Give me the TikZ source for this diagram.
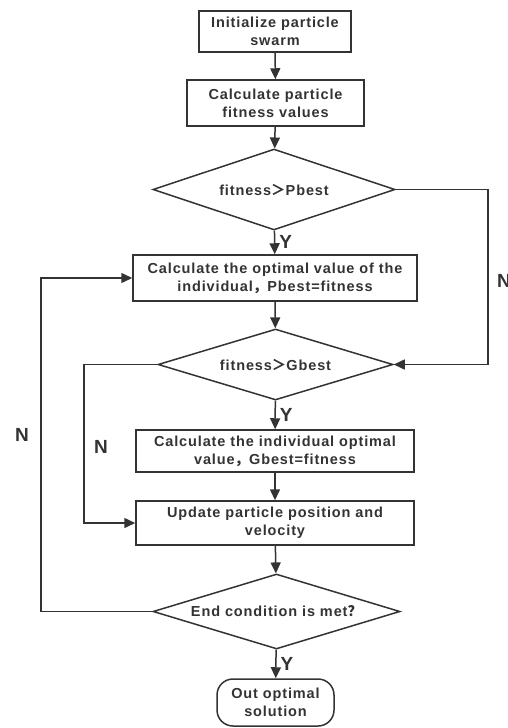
\documentclass[tikz,border=0pt]{standalone}
\usepackage{fontspec}
\setmainfont{Liberation Sans}[LetterSpace=6]
\newfontfamily\cjk{Noto Sans CJK SC}
\usetikzlibrary{shapes.geometric, arrows.meta, positioning}
\definecolor{linegray}{HTML}{333333}
\tikzset{
  flow/.style={
	x=1pt, y=-1pt, % pixel units, y pointing down
	line width=1.5pt, draw=linegray,
	font=\bfseries\fontsize{14.5}{18}\selectfont, text=linegray,
  },
  procbox/.style={draw, rectangle, align=center, inner sep=1pt}, % process steps
  testbox/.style={draw, diamond, align=center, inner sep=0pt}, % decisions
  endbox/.style={draw, rectangle, rounded corners=16pt, align=center, inner sep=1pt},
  arr/.style={-{Triangle[length=11pt,width=10pt]}},
  yn/.style={font=\bfseries\fontsize{19}{19}\selectfont, inner sep=1pt},
}
\begin{document}
\begin{tikzpicture}[flow]
	  \useasboundingbox (0,0) rectangle (507,728);
	  \node[procbox, minimum width=152pt, minimum height=41pt] (init) at (275,31.5) {Initialize particle\\swarm};
	  \node[procbox, minimum width=177pt, minimum height=46pt] (fit) at (275.5,103) {Calculate particle\\fitness values};
	  \node[testbox, aspect=3, minimum width=242pt, minimum height=81pt] (pb) at (274,189.5) {fitness{\cjk ＞}Pbest};
	  \node[procbox, minimum width=284pt, minimum height=46pt] (pbval) at (275,278) {Calculate the optimal value of the\\individual{\cjk ，}Pbest=fitness};
	  \node[testbox, aspect=3.3, minimum width=235pt, minimum height=71pt] (gb) at (275.5,364.5) {fitness{\cjk ＞}Gbest};
	  \node[procbox, minimum width=278pt, minimum height=42pt] (gbval) at (275,451) {Calculate the individual optimal\\value{\cjk ，}Gbest=fitness};
	  \node[procbox, minimum width=278pt, minimum height=44pt] (upd) at (275,523) {Update particle position and\\velocity};
	  \node[testbox, aspect=3.3, minimum width=247pt, minimum height=75pt] (stop) at (276.5,611.5) {End condition is met{\cjk ？}};
	  \node[endbox, minimum width=117pt, minimum height=47pt] (out) at (275.5,702.5) {Out optimal\\solution};
	  % corners of the loops
	  \coordinate (pbr) at (488,189.5);
	  \coordinate (gbl) at (84,364.5);
	  \coordinate (stl) at (41,611.5);
	  \draw[arr] (init) -- (fit);
	  \draw[arr] (fit) -- (pb);
	  \draw[arr] (pb) -- node[yn, right, pos=0.5, xshift=3pt] (y1) {Y} (pbval);
	  \draw[arr] (pbval) -- (gb);
	  \draw[arr] (gb) -- node[yn, right, pos=0.5, xshift=3pt] (y2) {Y} (gbval);
	  \draw[arr] (gbval) -- (upd);
	  \draw[arr] (upd) -- (stop);
	  \draw[arr] (stop) -- node[yn, right, pos=0.5, xshift=3pt] (y3) {Y} (out);
	  \draw[arr] (pb.east) -- (pbr) |- (gb.east);
	  \draw[arr] (gb.west) -- (gbl) |- (upd.west);
	  \draw[arr] (stop.west) -- (stl) |- (pbval.west);
	  \node[yn] (n1) at (504,281) {N};
	  \node[yn] (n2) at (101,447) {N};
	  \node[yn] (n3) at (22,435) {N};
\end{tikzpicture}
\end{document}
